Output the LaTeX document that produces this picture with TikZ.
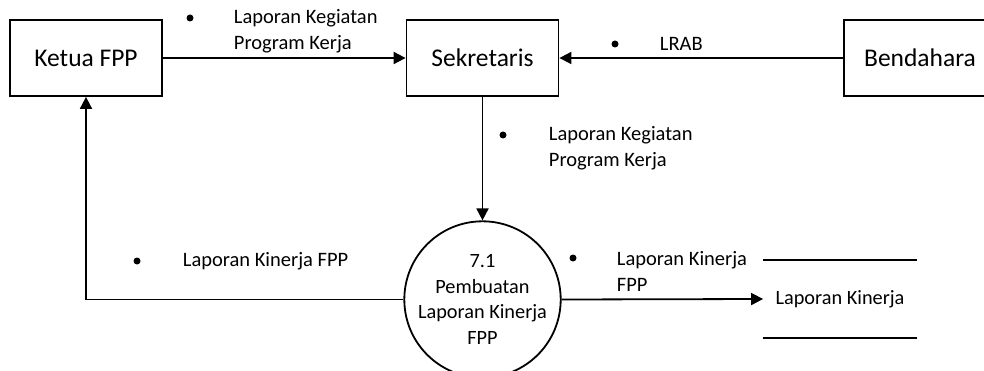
\documentclass[tikz,border=0pt]{standalone}
\usepackage{fontspec}
\setmainfont{Carlito}
\usetikzlibrary{arrows.meta}
\begin{document}
\begin{tikzpicture}[x=1pt,y=-1pt,
  line width=1.8pt,
  entity/.style={draw, minimum width=152pt, minimum height=76pt, inner sep=0pt,
    font=\fontsize{25.5}{30}\selectfont},
  process/.style={draw, circle, minimum size=153pt, inner sep=0pt, align=center,
    font=\fontsize{20.3}{25.5}\selectfont},
  store/.style={minimum width=152pt, minimum height=76pt, inner sep=0pt,
    font=\fontsize{20.3}{25}\selectfont},
  flow/.style={-{Triangle[length=12pt,width=12pt]}},
  dot/.style={circle, fill, inner sep=0pt, minimum size=7pt},
  lbl/.style={anchor=west, align=left, inner sep=0pt,
    font=\fontsize{20.5}{26}\selectfont},
]
\useasboundingbox (0,0) rectangle (984,371);

% external entities
\node[entity] (ketua) at (86,58) {Ketua FPP};
\node[entity] (sek) at (482.5,58) {Sekretaris};
\node[entity] (bend) at (920,58) {Bendahara};

% process
\node[process] (proc) at (482.5,299.5) {7.1\\Pembuatan\\Laporan Kinerja\\FPP};

% data store
\node[store] (store) at (840,299) {Laporan Kinerja};
\draw (store.north west) -- (store.north east);
\draw (store.south west) -- (store.south east);

% data flows
\draw[flow] (ketua.east) -- (sek.west);
\draw[flow] (bend.west) -- (sek.east);
\draw[flow] (sek.south) -- (proc.north);
\draw[flow] (proc.west) -| (ketua.south);
\draw[flow] (proc.east) -- (store.west);

% flow labels
\node[dot] (d1) at (190,18) {};
\node[lbl] (l1) at (233,31) {Laporan Kegiatan\\Program Kerja};
\node[dot] (d2) at (615,44) {};
\node[lbl] (l2) at (659,44) {LRAB};
\node[dot] (d3) at (503,135) {};
\node[lbl] (l3) at (548,148.5) {Laporan Kegiatan\\Program Kerja};
\node[dot] (d4) at (137,261) {};
\node[lbl] (l4) at (182,261) {Laporan Kinerja FPP};
\node[dot] (d5) at (573,258) {};
\node[lbl] (l5) at (616,271) {Laporan Kinerja\\FPP};
\end{tikzpicture}
\end{document}
